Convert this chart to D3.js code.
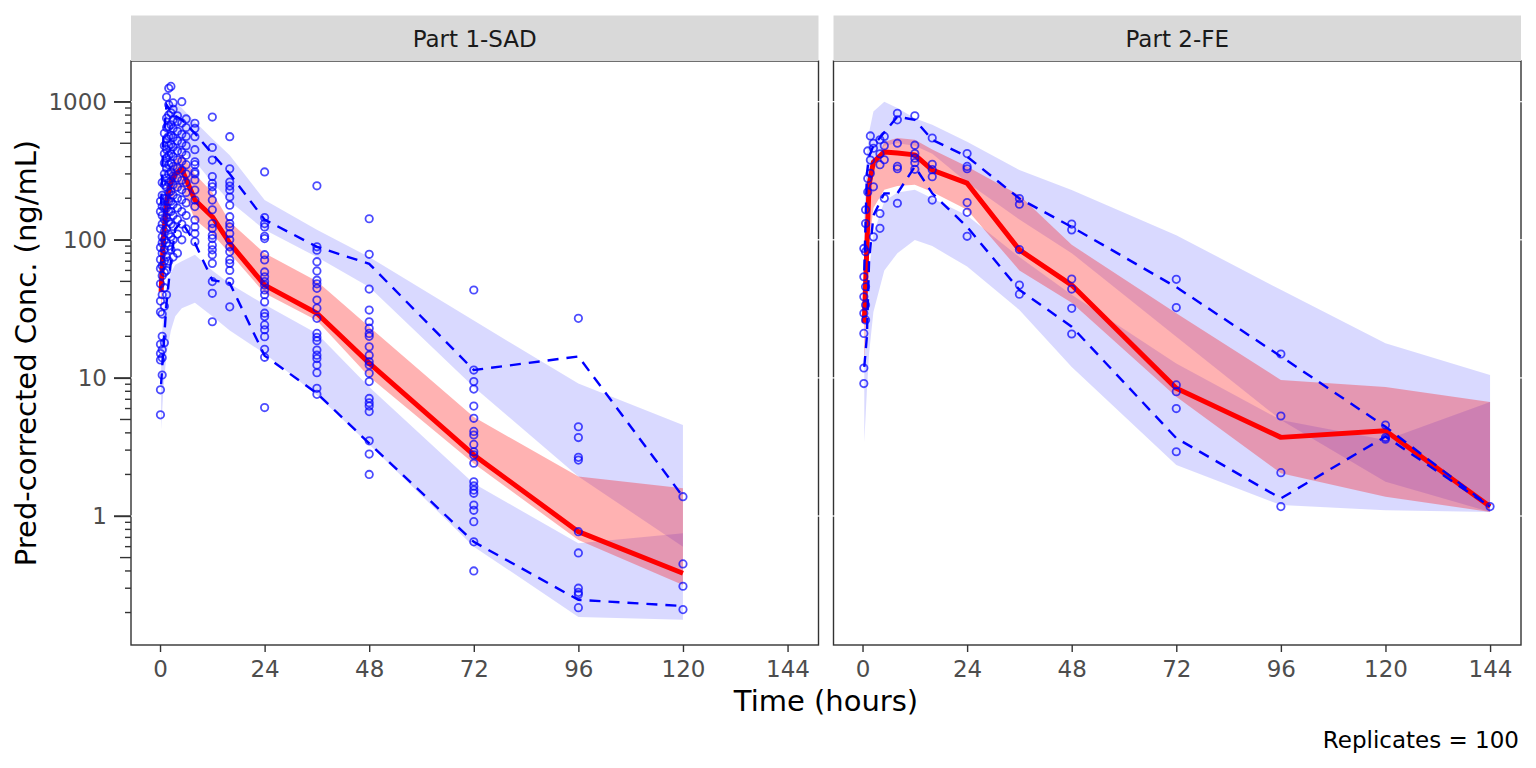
<!DOCTYPE html>
<html>
<head>
<meta charset="utf-8">
<script src="https://cdn.jsdelivr.net/npm/d3@7"></script>
<style>
body { margin: 0; background: #fff; }
svg { display: block; font-family: "DejaVu Sans", sans-serif; }
</style>
</head>
<body>
<div id="chart"></div>
<script>
// facet labels and ticks
const panelNames = ['Part 1-SAD', 'Part 2-FE'];
const xTicks = [0, 24, 48, 72, 96, 120, 144];
const yTicks = [1, 10, 100, 1000];

// Part 1-SAD : bin times, observed percentiles, simulated confidence bands
const sadBins   = [0.25, 0.75, 1.5, 2.5, 3.5, 5, 8, 12, 16, 24, 36, 48, 72, 96, 120];
const sadObsMed = [42, 100, 190, 260, 300, 325, 194, 147, 94.5, 47, 29.4, 12.8, 2.77, 0.77, 0.385];
const sadObsP95 = [180, 520, 950, 850, 790, 740, 590, 420, 300, 140, 89, 67, 11.4, 14.3, 1.38];
const sadObsP05 = [9, 16, 35, 70, 120, 135, 95, 51, 48.5, 14.5, 7.74, 3.36, 0.65, 0.247, 0.223];
const sadMedLo  = [25, 60, 120, 180, 220, 240, 140, 110, 80, 41, 26, 10.2, 2.4, 0.67, 0.317];
const sadMedHi  = [60, 150, 260, 340, 380, 420, 300, 220, 135, 80, 50, 23.5, 5.2, 1.93, 1.59];
const sadP95Lo  = [60, 180, 320, 400, 430, 430, 370, 260, 190, 118, 75, 45.6, 8.6, 1.93, 0.6];
const sadP95Hi  = [180, 500, 800, 950, 980, 900, 720, 540, 410, 194, 118, 75, 26, 9.1, 4.56];
const sadP05Lo  = [4.2, 8, 15, 22, 28, 32, 35, 28, 22, 15, 7.5, 3.3, 0.6, 0.186, 0.177];
const sadP05Hi  = [15, 30, 45, 58, 66, 70, 78, 60, 48, 34, 21, 8.6, 1.72, 0.634, 0.75];

// Part 1-SAD observations: [time, concentrations]
const sadObs = [
  [0.1, [5.4, 8.2, 13.5, 15, 17.5, 30, 36, 48, 62, 72, 88, 120, 160, 190]],
  [0.5, [10.5, 14, 16, 20, 29, 40, 55, 65, 80, 95, 105, 130, 150, 175, 210, 260]],
  [1, [18, 33, 45, 58, 70, 85, 100, 115, 140, 170, 200, 250, 300, 360, 420, 480, 590]],
  [1.5, [40, 60, 75, 95, 120, 145, 170, 200, 240, 280, 330, 390, 450, 540, 650, 760, 1080]],
  [2, [70, 90, 110, 135, 160, 190, 220, 260, 300, 350, 410, 480, 560, 660, 800, 950, 1250]],
  [2.5, [85, 105, 130, 160, 190, 225, 265, 310, 360, 420, 490, 570, 680, 830, 1290]],
  [3, [75, 100, 125, 150, 180, 210, 250, 290, 340, 400, 470, 550, 640, 740, 880, 980]],
  [4, [80, 110, 140, 170, 200, 240, 280, 330, 380, 440, 520, 610, 720, 790]],
  [5, [100, 130, 160, 195, 230, 270, 320, 370, 430, 500, 580, 700, 1000]],
  [6, [120, 150, 185, 220, 260, 300, 350, 410, 480, 560, 650, 750]],
  [8, [97, 111, 124, 139, 174, 194, 229, 271, 300, 310, 350, 367, 449, 558, 640, 698]],
  [12, [25.5, 41, 49.8, 67.5, 78, 84.6, 91.5, 102, 108, 121, 131, 165, 194, 222, 242, 256, 287, 378, 466, 774]],
  [16, [32.7, 49.8, 60, 67.5, 71.6, 82, 89, 100, 111, 124, 131, 147, 178, 204, 229, 245, 262, 327, 558]],
  [24, [6.1, 14.1, 16.1, 19.9, 22.3, 24.2, 27.8, 29.4, 35.5, 40, 43.3, 47, 49.8, 54, 58.5, 71.4, 78, 102, 106, 124, 131, 145, 310]],
  [36, [7.6, 8.4, 10.9, 12.4, 13.8, 14.6, 15.9, 18.6, 19.7, 21, 27, 32, 36.6, 44.5, 48, 51, 59.5, 69.4, 84, 89, 246]],
  [48, [2.0, 2.81, 3.5, 5.7, 6.25, 6.6, 7.1, 9.4, 10.8, 12.4, 13.1, 14.6, 16.8, 20, 21, 22.9, 25.5, 31, 44, 78.5, 142]],
  [72, [0.40, 0.65, 0.91, 1.1, 1.2, 1.46, 1.54, 1.65, 1.77, 2.41, 2.77, 2.92, 3.3, 3.86, 4.1, 5.1, 6.25, 8.3, 9.4, 11.4, 43.3]],
  [96, [0.217, 0.27, 0.28, 0.30, 0.54, 0.77, 2.54, 2.66, 3.7, 4.43, 27]],
  [120, [0.21, 0.31, 0.45, 1.38]]
];

// Part 2-FE : bin times, observed percentiles, simulated confidence bands
const feBins   = [0.4, 1, 1.5, 2.5, 5, 8, 12, 16, 24, 36, 48, 72, 96, 120, 144];
const feObsMed = [25, 90, 250, 366, 433, 425, 412, 320, 257, 84.5, 47, 8.4, 3.71, 4.15, 1.17];
const feObsP95 = [60, 300, 400, 480, 600, 780, 740, 530, 400, 199, 124, 45.4, 14.3, 4.43, 1.17];
const feObsP05 = [12, 20, 70, 150, 217, 217, 339, 217, 124, 43.4, 23.5, 3.66, 1.34, 3.76, 1.17];
const feMedLo  = [12, 40, 90, 170, 230, 245, 250, 222, 165, 60, 35, 7.3, 2.04, 1.38, 1.07];
const feMedHi  = [35, 110, 220, 330, 512, 545, 530, 450, 340, 210, 92, 29.4, 9.65, 8.6, 6.7];
const feP95Lo  = [30, 100, 200, 350, 480, 500, 480, 420, 260, 140, 80, 19.9, 4.96, 1.77, 1.07];
const feP95Hi  = [150, 400, 600, 850, 1000, 900, 760, 680, 512, 320, 229, 108, 43.4, 17.8, 10.5];
const feP05Lo  = [3.4, 8, 15, 30, 60, 80, 99.6, 90, 64, 31, 12, 2.34, 1.2, 1.1, 1.07];
const feP05Hi  = [15, 35, 60, 110, 190, 220, 230, 200, 150, 75, 40, 12.7, 4.96, 3.55, 6.7];

// Part 2-FE observations: [time, concentrations]
const feObs = [
  [0.3, [9.1, 11.8, 21, 29.4, 38.7, 54, 86.6]],
  [0.7, [26.3, 33.7, 45.7, 82, 131, 165]],
  [1.2, [222, 278, 440]],
  [1.8, [303, 378, 565]],
  [2.5, [105, 242, 460, 500]],
  [4, [121, 155, 350, 420, 530]],
  [5, [200, 380, 480, 560]],
  [8, [184, 327, 340, 500, 739, 825]],
  [12, [324, 362, 390, 421, 484, 790]],
  [16, [194, 286, 322, 352, 546]],
  [24, [106, 158, 186, 327, 340, 421]],
  [36, [40.4, 47, 85, 181, 199]],
  [48, [20.8, 31.9, 44, 52, 118, 130]],
  [72, [2.92, 6.0, 7.95, 8.9, 32.3, 51.7]],
  [96, [1.17, 2.06, 5.3, 14.9]],
  [120, [3.6, 3.7, 4.56]],
  [144, [1.17]]
];

const panels = [
  { bins: sadBins, med: sadObsMed, p95: sadObsP95, p05: sadObsP05,
    medLo: sadMedLo, medHi: sadMedHi, p95Lo: sadP95Lo, p95Hi: sadP95Hi,
    p05Lo: sadP05Lo, p05Hi: sadP05Hi, obs: sadObs },
  { bins: feBins, med: feObsMed, p95: feObsP95, p05: feObsP05,
    medLo: feMedLo, medHi: feMedHi, p95Lo: feP95Lo, p95Hi: feP95Hi,
    p05Lo: feP05Lo, p05Hi: feP05Hi, obs: feObs }
];

const svgWidth = 1536, svgHeight = 768;
const panelW = 687.5, panelH = 584, panelTop = 61, stripTop = 15.5;
const panelLeft = [131, 833.5];
const smallFont = '23px';

const svg = d3.select('#chart').append('svg')
    .attr('width', svgWidth)
    .attr('height', svgHeight);

const xScale = d3.scaleLinear().domain([-6.66, 151.1]).range([0, panelW]);
const yScale = d3.scaleLog().domain([0.1164, 1971]).range([panelH, 0]);

panels.forEach((p, i) => {
    const g = svg.append('g')
        .attr('transform', 'translate(' + panelLeft[i] + ',' + panelTop + ')');

    g.append('clipPath').attr('id', 'clip' + i)
        .append('rect').attr('width', panelW).attr('height', panelH);

    const body = g.append('g').attr('clip-path', 'url(#clip' + i + ')');

    const band = (lo, hi) => d3.area()
        .x((d, k) => xScale(p.bins[k]))
        .y0((d, k) => yScale(lo[k]))
        .y1((d, k) => yScale(hi[k]))(p.bins);

    body.append('path').attr('d', band(p.p95Lo, p.p95Hi))
        .attr('fill', 'blue').attr('fill-opacity', 0.15);
    body.append('path').attr('d', band(p.p05Lo, p.p05Hi))
        .attr('fill', 'blue').attr('fill-opacity', 0.15);
    body.append('path').attr('d', band(p.medLo, p.medHi))
        .attr('fill', 'red').attr('fill-opacity', 0.3);

    const line = vals => d3.line()
        .x((d, k) => xScale(p.bins[k]))
        .y((d, k) => yScale(vals[k]))(p.bins);

    body.append('path').attr('d', line(p.med))
        .attr('fill', 'none').attr('stroke', 'red').attr('stroke-width', 5)
        .attr('stroke-linejoin', 'round');
    [p.p95, p.p05].forEach(v => {
        body.append('path').attr('d', line(v))
            .attr('fill', 'none').attr('stroke', 'blue').attr('stroke-width', 2.4)
            .attr('stroke-dasharray', '11,8');
    });

    const pts = [];
    p.obs.forEach(([t, vals]) => vals.forEach(v => pts.push([t, v])));
    body.selectAll('.pt').data(pts).enter().append('circle')
        .attr('class', 'pt')
        .attr('cx', d => xScale(d[0]))
        .attr('cy', d => yScale(d[1]))
        .attr('r', 3.7)
        .attr('fill', 'none')
        .attr('stroke', 'blue')
        .attr('stroke-opacity', 0.7)
        .attr('stroke-width', 1.8);

    // panel border
    g.append('rect').attr('width', panelW).attr('height', panelH)
        .attr('fill', 'none').attr('stroke', '#333333').attr('stroke-width', 1.4);

    // small white notches where the major grid meets the border
    yTicks.forEach(v => {
        [0, panelW].forEach(bx => {
            g.append('line')
                .attr('x1', bx - 2).attr('x2', bx + 2)
                .attr('y1', yScale(v)).attr('y2', yScale(v))
                .attr('stroke', 'white').attr('stroke-width', 1.2);
        });
    });

    // strip
    svg.append('rect')
        .attr('x', panelLeft[i]).attr('y', stripTop)
        .attr('width', panelW).attr('height', panelTop - stripTop)
        .attr('fill', '#d9d9d9');
    svg.append('text')
        .attr('x', panelLeft[i] + panelW / 2)
        .attr('y', 46.5)
        .attr('text-anchor', 'middle')
        .style('font-size', smallFont)
        .style('fill', '#1a1a1a')
        .text(panelNames[i]);

    // x axis
    const xAxis = g.append('g')
        .attr('transform', 'translate(0,' + panelH + ')')
        .call(d3.axisBottom(xScale).tickValues(xTicks).tickSize(7).tickPadding(8.5));
    xAxis.select('.domain').remove();
    xAxis.selectAll('line').attr('stroke', '#333333').attr('stroke-width', 1.4);
    xAxis.selectAll('text').style('font-size', smallFont).style('fill', '#4d4d4d')
        .style('font-family', '"DejaVu Sans", sans-serif');

    if (i === 0) {
        const yAxis = g.append('g')
            .call(d3.axisLeft(yScale).tickValues(yTicks).tickFormat(d3.format('d'))
                .tickSize(17).tickPadding(7));
        yAxis.select('.domain').remove();
        yAxis.selectAll('line').attr('stroke', '#333333').attr('stroke-width', 1.4);
        yAxis.selectAll('text').style('font-size', smallFont).style('fill', '#4d4d4d')
            .style('font-family', '"DejaVu Sans", sans-serif');

        // log ticks
        g.selectAll('.logtick').data(yScale.ticks()).enter().append('line')
            .attr('class', 'logtick')
            .attr('x1', d => {
                const lead = Math.round(d / Math.pow(10, Math.floor(Math.log10(d) + 1e-9)));
                return lead === 1 ? -17 : lead === 5 ? -11 : -6;
            })
            .attr('x2', 0)
            .attr('y1', d => yScale(d)).attr('y2', d => yScale(d))
            .attr('stroke', '#333333').attr('stroke-width', 1.4);
    }
});

svg.append('text')
    .attr('x', (panelLeft[0] + panelLeft[1] + panelW) / 2)
    .attr('y', 711)
    .attr('text-anchor', 'middle')
    .style('font-size', '29px')
    .style('fill', 'black')
    .text('Time (hours)');

svg.append('text')
    .attr('transform', 'translate(36,' + (panelTop + panelH / 2) + ') rotate(-90)')
    .attr('text-anchor', 'middle')
    .style('font-size', '29px')
    .style('fill', 'black')
    .text('Pred-corrected Conc. (ng/mL)');

svg.append('text')
    .attr('x', 1519)
    .attr('y', 748)
    .attr('text-anchor', 'end')
    .style('font-size', smallFont)
    .style('fill', 'black')
    .text('Replicates = 100');
</script>
</body>
</html>
